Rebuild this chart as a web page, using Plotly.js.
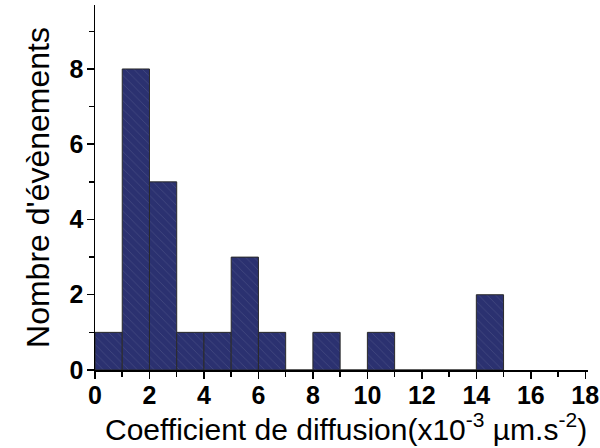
<!DOCTYPE html>
<html>
<head>
<meta charset="utf-8">
<script src="https://cdn.plot.ly/plotly-3.0.1.min.js"></script>
<style>html,body{margin:0;padding:0;background:#fff;}#chart{width:600px;height:448px;}</style>
</head>
<body>
<div id="chart"></div>
<script>
// Bin centres (bin width 1, from 0 to 15) and counts
const binCenters = [0.5, 1.5, 2.5, 3.5, 4.5, 5.5, 6.5, 7.5, 8.5, 9.5, 10.5, 11.5, 12.5, 13.5, 14.5];
const counts     = [1,   8,   5,   1,   1,   3,   1,   0,   1,   0,   1,    0,    0,    0,    2];
const xTickVals = [0, 2, 4, 6, 8, 10, 12, 14, 16, 18];
const yTickVals = [0, 2, 4, 6, 8];
const xTitle = 'Coefficient de diffusion(x10<sup>-3</sup> µm.s<sup>-2</sup>)';
const yTitle = "Nombre d'évènements";

const trace = {
  type: 'bar',
  x: binCenters,
  y: counts,
  width: 1,
  marker: {
    color: '#2b3170',
    line: {color: '#2a2a2a', width: 1},
    pattern: {shape: '\\', bgcolor: '#2b3170', fgcolor: '#474c82', size: 6, solidity: 0.12, fillmode: 'replace'}
  },
  hoverinfo: 'skip'
};

const tickFont = {family: 'Liberation Sans, Arial, sans-serif', size: 25, color: '#000', weight: 'bold'};

const layout = {
  width: 600, height: 448,
  margin: {l: 95, r: 12, t: 5, b: 78},
  paper_bgcolor: '#fff', plot_bgcolor: '#fff',
  showlegend: false,
  bargap: 0,
  xaxis: {
    range: [0, 18.1],
    tickvals: xTickVals,
    ticks: 'outside', ticklen: 7, tickwidth: 1.5, tickcolor: '#000',
    ticklabelstandoff: -5,
    minor: {ticks: 'outside', dtick: 1, tick0: 0, ticklen: 5, tickwidth: 1.5, tickcolor: '#000', showgrid: false},
    showline: true, linecolor: '#000', linewidth: 1.5,
    showgrid: false, zeroline: false,
    tickfont: tickFont
  },
  yaxis: {
    range: [0, 9.7],
    tickvals: yTickVals,
    ticks: 'outside', ticklen: 7, tickwidth: 1.5, tickcolor: '#000',
    ticklabelstandoff: -2,
    minor: {ticks: 'outside', dtick: 1, tick0: 0, ticklen: 5, tickwidth: 1.5, tickcolor: '#000', showgrid: false},
    showline: true, linecolor: '#000', linewidth: 1.5,
    showgrid: false, zeroline: false,
    tickfont: tickFont,
    title: {text: yTitle, font: {family: 'Liberation Sans, Arial, sans-serif', size: 32, color: '#000'}, standoff: 10}
  },
  annotations: [{
    text: xTitle,
    xref: 'paper', yref: 'paper',
    x: 0.509, y: -0.157,
    xanchor: 'center', yanchor: 'middle',
    showarrow: false, borderpad: 0,
    font: {family: 'Liberation Sans, Arial, sans-serif', size: 30, color: '#000'}
  }]
};

Plotly.newPlot('chart', [trace], layout, {staticPlot: true, displayModeBar: false});
</script>
</body>
</html>
